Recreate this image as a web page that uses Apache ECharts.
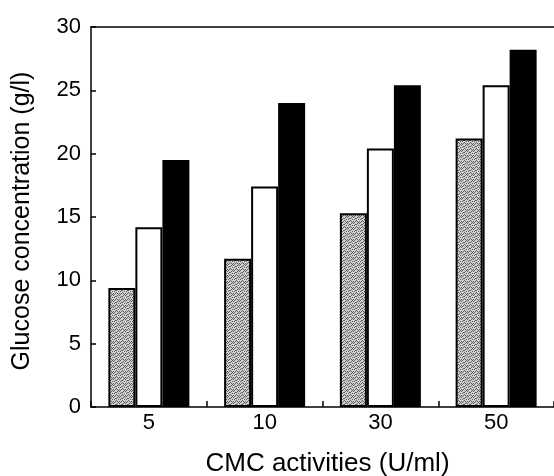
<!DOCTYPE html>
<html>
<head>
<meta charset="utf-8">
<style>
  html, body { margin: 0; padding: 0; background: #fff; }
  #chart { width: 554px; height: 476px; }
</style>
<script src="https://cdn.jsdelivr.net/npm/echarts@6/dist/echarts.min.js"></script>
</head>
<body>
<div id="chart"></div>
<script>
// CMC activity levels (U/ml)
const categories = ['5', '10', '30', '50'];
// Glucose concentration (g/l) for the three series
const seriesGray = [9.4, 11.7, 15.3, 21.2];
const seriesWhite = [14.2, 17.4, 20.4, 25.4];
const seriesBlack = [19.5, 24.0, 25.4, 28.2];
const yTicks = { min: 0, max: 30, interval: 5 };

// Stippled grey fill used for the first series
function stipple() {
  const c = document.createElement('canvas');
  c.width = 6; c.height = 6;
  const g = c.getContext('2d');
  g.fillStyle = '#d0d0d0';
  g.fillRect(0, 0, 6, 6);
  g.fillStyle = '#5e5e5e';
  const dots = [[0,0],[3,1],[1,2],[4,3],[2,4],[5,5],[0,3],[3,5],[5,1],[1,5],[4,0],[2,2]];
  dots.forEach(([x, y]) => g.fillRect(x, y, 1, 1));
  return c;
}

const font = 'Liberation Sans, Arial, Helvetica, sans-serif';
const chart = echarts.init(document.getElementById('chart'), null, { renderer: 'canvas' });

chart.setOption({
  animation: false,
  backgroundColor: '#fff',
  grid: { left: 91, right: 0, top: 27, bottom: 69, containLabel: false, outerBoundsMode: 'none' },
  xAxis: [
    {
      type: 'category',
      data: categories,
      position: 'bottom',
      name: 'CMC activities (U/ml)',
      nameLocation: 'middle',
      nameGap: 44,
      nameTextStyle: { fontFamily: font, fontSize: 26, color: '#000', padding: [0, 0, 0, 10] },
      axisLine: { lineStyle: { color: '#000', width: 1.5 } },
      axisTick: { show: true, inside: true, length: 6, lineStyle: { color: '#000', width: 1.5 } },
      axisLabel: { fontFamily: font, fontSize: 22, color: '#000', margin: 5 }
    },
    {
      type: 'category',
      data: categories,
      position: 'top',
      axisLine: { lineStyle: { color: '#000', width: 1.5 } },
      axisTick: { show: false },
      axisLabel: { show: false }
    }
  ],
  yAxis: {
    type: 'value',
    min: yTicks.min,
    max: yTicks.max,
    interval: yTicks.interval,
    name: 'Glucose concentration (g/l)',
    nameLocation: 'middle',
    nameGap: 56,
    nameTextStyle: { fontFamily: font, fontSize: 25, color: '#000', padding: [0, 8, 0, 0] },
    axisLine: { show: true, lineStyle: { color: '#000', width: 1.5 } },
    axisTick: { show: true, inside: true, length: 5, lineStyle: { color: '#000', width: 1.5 } },
    axisLabel: { fontFamily: font, fontSize: 22, color: '#000', margin: 10 },
    splitLine: { show: false }
  },
  series: [
    {
      type: 'bar',
      data: seriesGray,
      barWidth: 27,
      barGap: '0%',
      itemStyle: { color: { image: stipple(), repeat: 'repeat' }, borderColor: '#000', borderWidth: 2 }
    },
    {
      type: 'bar',
      data: seriesWhite,
      barWidth: 27,
      itemStyle: { color: '#fff', borderColor: '#000', borderWidth: 2 }
    },
    {
      type: 'bar',
      data: seriesBlack,
      barWidth: 27,
      itemStyle: { color: '#000', borderColor: '#000', borderWidth: 0 }
    }
  ]
});
</script>
</body>
</html>
